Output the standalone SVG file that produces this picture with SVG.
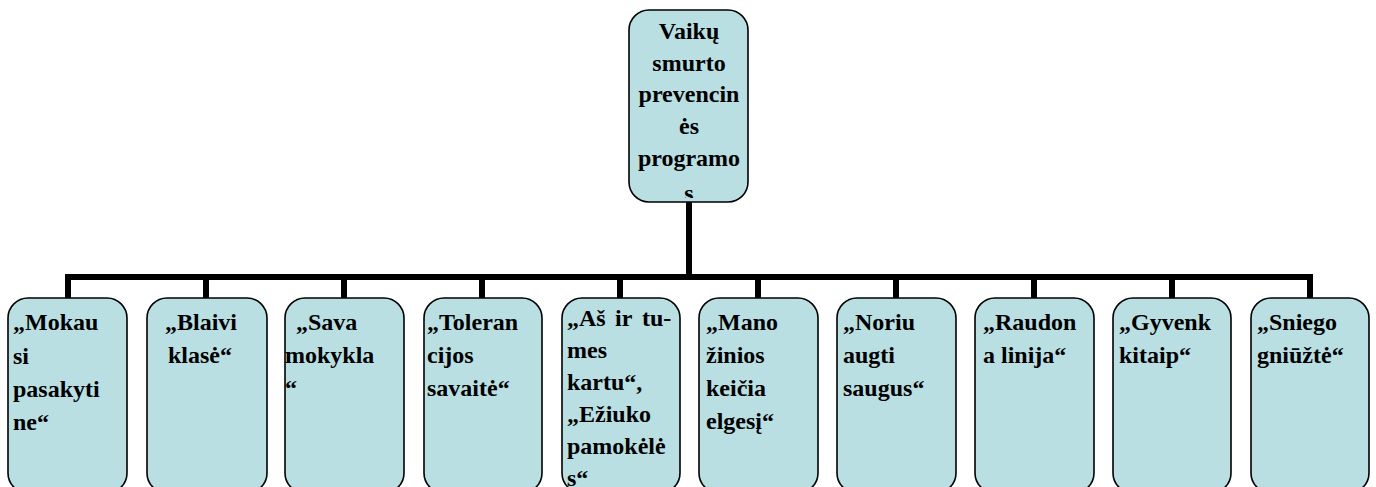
<svg xmlns="http://www.w3.org/2000/svg" width="1376" height="487" viewBox="0 0 1376 487">
<style>
.box{fill:#B9DFE3;stroke:#000;stroke-width:1.6}
.t{font-family:'Liberation Serif',serif;font-weight:700;font-size:24px;fill:#000}
.c{text-anchor:middle}
.ln{stroke:#000;stroke-width:6;fill:none;stroke-linecap:butt}
</style>
<defs>
<clipPath id="clipTop"><rect x="629" y="10" width="119" height="188" rx="20"/></clipPath>
</defs>
<rect width="1376" height="487" fill="#fff"/>
<g id="connectors">
<path class="ln" d="M689 202V277M65 277H1313"/>
<path class="ln" d="M68 277V298M206 277V298M344 277V298M482 277V298M620 277V298M758 277V298M896 277V298M1034 277V298M1172 277V298M1310 277V298"/>
</g>
<g id="root">
<rect class="box" x="629" y="10" width="119" height="192" rx="20"/>
<g clip-path="url(#clipTop)">
<text class="t c" x="689" y="39">Vaikų</text>
<text class="t c" x="689" y="71">smurto</text>
<text class="t c" x="689" y="102">prevencin</text>
<text class="t c" x="689" y="134">ės</text>
<text class="t c" x="689" y="166">programo</text>
<text class="t c" x="689" y="201">s</text>
</g>
</g>
<g id="n1">
<rect class="box" x="8" y="298" width="119" height="195" rx="20"/>
<text class="t" x="13" y="330">„Mokau</text>
<text class="t" x="13" y="364">si</text>
<text class="t" x="13" y="397">pasakyti</text>
<text class="t" x="13" y="430">ne“</text>
</g>
<g id="n2">
<rect class="box" x="147" y="298" width="120" height="195" rx="20"/>
<text class="t" x="165" y="330">„Blaivi</text>
<text class="t" x="168" y="363">klasė“</text>
</g>
<g id="n3">
<rect class="box" x="285" y="298" width="119" height="195" rx="20"/>
<text class="t" x="296" y="330">„Sava</text>
<text class="t" x="285" y="363">mokykla</text>
<text class="t" x="285" y="396">“</text>
</g>
<g id="n4">
<rect class="box" x="424" y="298" width="118" height="195" rx="20"/>
<text class="t" x="427" y="330">„Toleran</text>
<text class="t" x="427" y="363">cijos</text>
<text class="t" x="427" y="396">savaitė“</text>
</g>
<g id="n5">
<rect class="box" x="562" y="298" width="118" height="195" rx="20"/>
<text class="t" y="326"><tspan x="567">„Aš</tspan><tspan x="615">ir</tspan><tspan x="642">tu-</tspan></text>
<text class="t" x="567" y="358">mes</text>
<text class="t" x="567" y="390">kartu“,</text>
<text class="t" x="567" y="422">„Ežiuko</text>
<text class="t" x="567" y="454">pamokėlė</text>
<text class="t" x="567" y="486">s“</text>
</g>
<g id="n6">
<rect class="box" x="699" y="298" width="119" height="195" rx="20"/>
<text class="t" x="706" y="330">„Mano</text>
<text class="t" x="706" y="363">žinios</text>
<text class="t" x="706" y="396">keičia</text>
<text class="t" x="706" y="429">elgesį“</text>
</g>
<g id="n7">
<rect class="box" x="837" y="298" width="119" height="195" rx="20"/>
<text class="t" x="843" y="330">„Noriu</text>
<text class="t" x="843" y="363">augti</text>
<text class="t" x="843" y="396">saugus“</text>
</g>
<g id="n8">
<rect class="box" x="975" y="298" width="119" height="195" rx="20"/>
<text class="t" x="983" y="330">„Raudon</text>
<text class="t" x="983" y="363">a linija“</text>
</g>
<g id="n9">
<rect class="box" x="1113" y="298" width="118" height="195" rx="20"/>
<text class="t" x="1119" y="330">„Gyvenk</text>
<text class="t" x="1119" y="363">kitaip“</text>
</g>
<g id="n10">
<rect class="box" x="1251" y="298" width="118" height="195" rx="20"/>
<text class="t" x="1257" y="330">„Sniego</text>
<text class="t" x="1257" y="363">gniūžtė“</text>
</g>
</svg>
